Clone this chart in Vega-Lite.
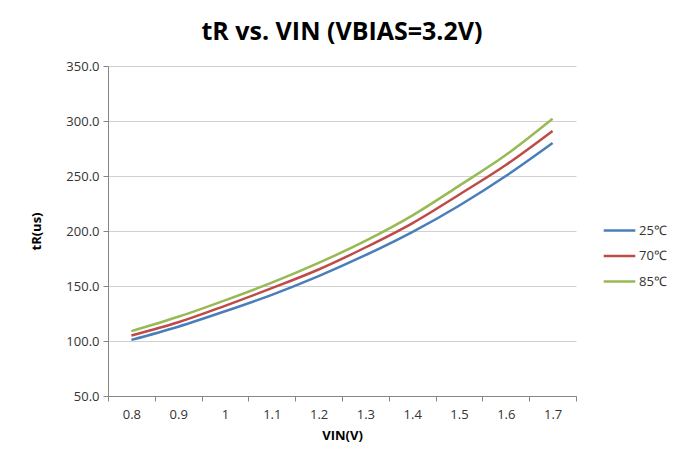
{
  "$schema": "https://vega.github.io/schema/vega-lite/v6.json",
  "autosize": "none",
  "width": 468,
  "height": 330,
  "padding": {"left": 108, "top": 66, "right": 105, "bottom": 62},
  "background": "white",
  "title": {
    "text": "tR vs. VIN (VBIAS=3.2V)",
    "font": "Open Sans",
    "fontSize": 25,
    "fontWeight": "bold",
    "color": "#000000",
    "anchor": "middle",
    "frame": "group",
    "offset": 15
  },
  "data": {
    "values": [
      {"vin": "0.8", "temp": "25℃", "tr": 101},
      {"vin": "0.9", "temp": "25℃", "tr": 113},
      {"vin": "1", "temp": "25℃", "tr": 127},
      {"vin": "1.1", "temp": "25℃", "tr": 142},
      {"vin": "1.2", "temp": "25℃", "tr": 159},
      {"vin": "1.3", "temp": "25℃", "tr": 178},
      {"vin": "1.4", "temp": "25℃", "tr": 199},
      {"vin": "1.5", "temp": "25℃", "tr": 223},
      {"vin": "1.6", "temp": "25℃", "tr": 250},
      {"vin": "1.7", "temp": "25℃", "tr": 280},
      {"vin": "0.8", "temp": "70℃", "tr": 105},
      {"vin": "0.9", "temp": "70℃", "tr": 117},
      {"vin": "1", "temp": "70℃", "tr": 132},
      {"vin": "1.1", "temp": "70℃", "tr": 148},
      {"vin": "1.2", "temp": "70℃", "tr": 165},
      {"vin": "1.3", "temp": "70℃", "tr": 185},
      {"vin": "1.4", "temp": "70℃", "tr": 207},
      {"vin": "1.5", "temp": "70℃", "tr": 233},
      {"vin": "1.6", "temp": "70℃", "tr": 260},
      {"vin": "1.7", "temp": "70℃", "tr": 291},
      {"vin": "0.8", "temp": "85℃", "tr": 109},
      {"vin": "0.9", "temp": "85℃", "tr": 122},
      {"vin": "1", "temp": "85℃", "tr": 137},
      {"vin": "1.1", "temp": "85℃", "tr": 153},
      {"vin": "1.2", "temp": "85℃", "tr": 171},
      {"vin": "1.3", "temp": "85℃", "tr": 191},
      {"vin": "1.4", "temp": "85℃", "tr": 214},
      {"vin": "1.5", "temp": "85℃", "tr": 241},
      {"vin": "1.6", "temp": "85℃", "tr": 269},
      {"vin": "1.7", "temp": "85℃", "tr": 302}
    ]
  },
  "mark": {"type": "line", "strokeWidth": 2.5, "interpolate": "monotone"},
  "encoding": {
    "x": {
      "field": "vin",
      "type": "ordinal",
      "sort": null,
      "bandPosition": 0.5,
      "scale": {"type": "band", "paddingInner": 0, "paddingOuter": 0},
      "axis": {
        "title": "VIN(V)",
        "titleFont": "Open Sans",
        "titleFontSize": 13,
        "titleFontWeight": "bold",
        "titleColor": "#000000",
        "titlePadding": 8,
        "labelFont": "Open Sans",
        "labelFontSize": 13,
        "labelColor": "#333333",
        "labelAngle": 0,
        "labelPadding": 7,
        "tickBand": "extent",
        "tickSize": 5,
        "tickColor": "#868686",
        "domainColor": "#868686",
        "grid": false
      }
    },
    "y": {
      "field": "tr",
      "type": "quantitative",
      "scale": {"domain": [50, 350], "nice": false, "zero": false},
      "axis": {
        "title": "tR(us)",
        "titleFont": "Open Sans",
        "titleFontSize": 13,
        "titleFontWeight": "bold",
        "titleColor": "#000000",
        "titlePadding": 22,
        "values": [50, 100, 150, 200, 250, 300, 350],
        "format": ".1f",
        "labelFont": "Open Sans",
        "labelFontSize": 13,
        "labelColor": "#333333",
        "labelPadding": 4,
        "tickSize": 5,
        "tickColor": "#868686",
        "domainColor": "#868686",
        "gridColor": "#d0d0d0",
        "gridWidth": 1
      }
    },
    "color": {
      "field": "temp",
      "type": "nominal",
      "scale": {"domain": ["25℃", "70℃", "85℃"], "range": ["#4a7ebb", "#be4b48", "#98b954"]},
      "legend": {
        "title": null,
        "orient": "none",
        "legendX": 494,
        "legendY": 158,
        "symbolType": "stroke",
        "symbolSize": 1000,
        "symbolStrokeWidth": 2.5,
        "labelFont": "Open Sans",
        "labelFontSize": 13,
        "labelColor": "#333333",
        "labelOffset": 2,
        "clipHeight": 13,
        "rowPadding": 11.5
      }
    }
  },
  "config": {"view": {"stroke": null}}
}
